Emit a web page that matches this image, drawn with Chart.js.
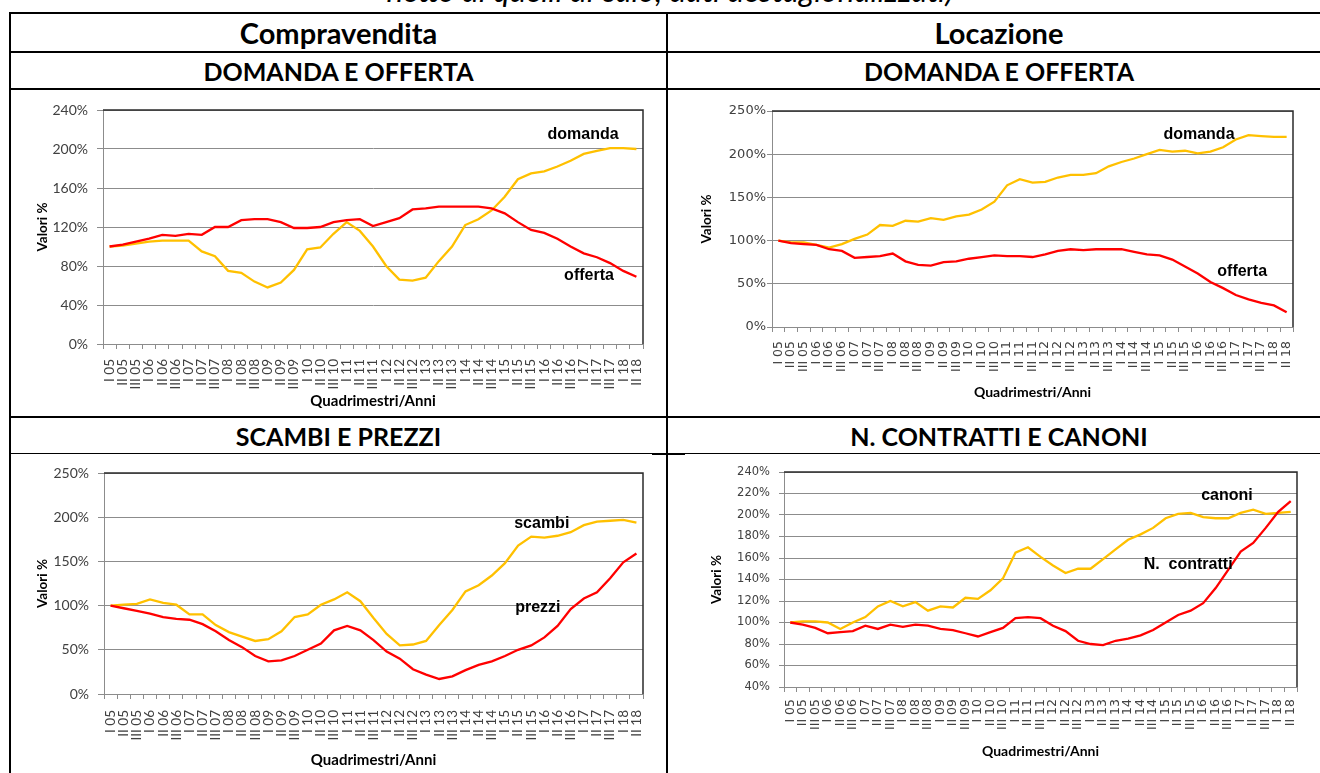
<!DOCTYPE html>
<html lang="it">
<head>
<meta charset="UTF-8">
<title>Compravendita e Locazione</title>
<script src="https://cdn.jsdelivr.net/npm/chart.js@4.4.1/dist/chart.umd.min.js"></script>
<style>
  body { margin: 0; background: #fff; }
  #pagina { position: relative; width: 1320px; height: 773px; overflow: hidden; font-family: Lato, "Open Sans", sans-serif; }
  .riga { position: absolute; background: #000; }
  .cella { position: absolute; display: flex; align-items: center; justify-content: center; font-weight: bold; font-size: 25px; color: #000; }
  .grande { font-size: 29px; }
  canvas { position: absolute; }
  #nota { position: absolute; left: 0; width: 1340px; top: -25px; line-height: 31px; text-align: center; font-style: italic; font-size: 31.5px; }
</style>
</head>
<body>
<div id="pagina">
  <div id="nota">netto di quelli di calo, dati destagionalizzati)</div>

  <div class="cella grande" style="left:11px; top:14px; width:655px; height:37px;">Compravendita</div>
  <div class="cella grande" style="left:668px; top:14px; width:662px; height:37px;">Locazione</div>
  <div class="cella" style="left:11px; top:53px; width:655px; height:35px;">DOMANDA E OFFERTA</div>
  <div class="cella" style="left:668px; top:53px; width:662px; height:35px;">DOMANDA E OFFERTA</div>
  <div class="cella" style="left:11px; top:418px; width:655px; height:35px;">SCAMBI E PREZZI</div>
  <div class="cella" style="left:668px; top:418px; width:662px; height:35px;">N. CONTRATTI E CANONI</div>

  <canvas id="cv-domanda" width="655" height="326" style="left:11px; top:90px;"></canvas>
  <canvas id="loc-domanda" width="652" height="326" style="left:668px; top:90px;"></canvas>
  <canvas id="cv-scambi" width="655" height="318" style="left:11px; top:455px;"></canvas>
  <canvas id="loc-contratti" width="652" height="318" style="left:668px; top:455px;"></canvas>

  <!-- bordi della tabella -->
  <div class="riga" style="left:9px; top:12px; width:1320px; height:2px;"></div>
  <div class="riga" style="left:9px; top:51px; width:1320px; height:2px;"></div>
  <div class="riga" style="left:9px; top:88px; width:1320px; height:2px;"></div>
  <div class="riga" style="left:9px; top:416px; width:1320px; height:2px;"></div>
  <div class="riga" style="left:9px; top:453px; width:1320px; height:1px;"></div>
  <div class="riga" style="left:652px; top:453px; width:33px; height:2px;"></div>
  <div class="riga" style="left:9px; top:12px; width:2px; height:780px;"></div>
  <div class="riga" style="left:666px; top:12px; width:2px; height:780px;"></div>
</div>

<script>
  // quadrimestri, da I 05 a II 18
  const quadrimestri = [
    "I 05", "II 05", "III 05", "I 06", "II 06", "III 06", "I 07", "II 07", "III 07",
    "I 08", "II 08", "III 08", "I 09", "II 09", "III 09", "I 10", "II 10", "III 10",
    "I 11", "II 11", "III 11", "I 12", "II 12", "III 12", "I 13", "II 13", "III 13",
    "I 14", "II 14", "III 14", "I 15", "II 15", "III 15", "I 16", "II 16", "III 16",
    "I 17", "II 17", "III 17", "I 18", "II 18"
  ];

  // compravendita: domanda e offerta
  const cvDomanda = [100, 101, 103, 105, 106, 106, 106, 95, 90, 75, 73, 64, 58, 63, 76, 97, 99, 113, 125, 116,
    100, 80, 66, 65, 68, 85, 100, 122, 128, 137, 151, 169, 175, 177, 182, 188, 195, 198, 201, 201, 200];
  const cvOfferta = [100, 102, 105, 108, 112, 111, 113, 112, 120, 120, 127, 128, 128, 125, 119, 119, 120, 125, 127, 128,
    121, 125, 129, 138, 139, 141, 141, 141, 141, 139, 134, 125, 117, 114, 108, 100, 93, 89, 83, 75, 69];

  // locazione: domanda e offerta
  const locDomanda = [100, 98, 98, 95, 92, 96, 102, 107, 118, 117, 123, 122, 126, 124, 128, 130, 136, 145, 164, 171,
    167, 168, 173, 176, 176, 178, 186, 191, 195, 200, 205, 203, 204, 201, 203, 208, 217, 222, 221, 220, 220];
  const locOfferta = [100, 97, 96, 95, 90, 88, 80, 81, 82, 85, 76, 72, 71, 75, 76, 79, 81, 83, 82, 82,
    81, 84, 88, 90, 89, 90, 90, 90, 87, 84, 83, 78, 70, 62, 52, 45, 37, 32, 28, 25, 17];

  // compravendita: scambi e prezzi
  const scambi = [100, 101, 102, 107, 103, 101, 90, 90, 78, 70, 65, 60, 62, 71, 87, 90, 101, 107, 115, 105,
    86, 68, 55, 56, 60, 78, 95, 116, 123, 134, 148, 168, 178, 177, 179, 183, 191, 195, 196, 197, 194];
  const prezzi = [100, 97, 94, 91, 87, 85, 84, 79, 71, 61, 53, 43, 37, 38, 43, 50, 57, 72, 77, 72,
    61, 48, 40, 28, 22, 17, 20, 27, 33, 37, 43, 50, 55, 64, 77, 96, 108, 115, 131, 149, 159];

  // locazione: n. contratti e canoni
  const canoni = [100, 101, 101, 100, 94, 100, 105, 115, 120, 115, 119, 111, 115, 114, 123, 122, 130, 141, 165, 170,
    161, 153, 146, 150, 150, 159, 168, 177, 182, 188, 197, 201, 202, 198, 197, 197, 202, 205, 201, 202, 203];
  const contratti = [100, 98, 95, 90, 91, 92, 97, 94, 98, 96, 98, 97, 94, 93, 90, 87, 91, 95, 104, 105,
    104, 97, 92, 83, 80, 79, 83, 85, 88, 93, 100, 107, 111, 118, 132, 149, 166, 174, 188, 203, 213];

  // tacche asse y
  const tickCvDomanda = [0, 40, 80, 120, 160, 200, 240];
  const tickLocDomanda = [0, 50, 100, 150, 200, 250];
  const tickScambi = [0, 50, 100, 150, 200, 250];
  const tickContratti = [40, 60, 80, 100, 120, 140, 160, 180, 200, 220, 240];

  const ROSSO = "#FF0000";
  const GIALLO = "#FFC000";
  const GRIGIO = "#8C8C8C";

  Chart.defaults.font.family = "Lato";

  // bordo scuro sopra e a destra + etichette delle serie
  function cornice(note) {
    return {
      id: "cornice",
      beforeDatasetsDraw(chart) {
        const { ctx, chartArea: a } = chart;
        ctx.save();
        ctx.strokeStyle = "#2b2b2b";
        ctx.lineWidth = 1.5;
        ctx.beginPath();
        ctx.moveTo(a.left, a.top);
        ctx.lineTo(a.right, a.top);
        ctx.lineTo(a.right, a.bottom);
        ctx.stroke();
        ctx.restore();
      },
      afterDatasetsDraw(chart) {
        const { ctx, scales } = chart;
        ctx.save();
        ctx.font = 'bold 16px "Liberation Sans", Arial, sans-serif';
        ctx.fillStyle = "#000";
        ctx.textAlign = "center";
        ctx.textBaseline = "middle";
        note.forEach(n => {
          ctx.fillText(n.testo, scales.x.getPixelForValue(n.i), scales.y.getPixelForValue(n.v));
        });
        ctx.restore();
      }
    };
  }

  function grafico(id, g) {
    return new Chart(document.getElementById(id), {
      type: "line",
      data: {
        labels: quadrimestri,
        datasets: g.serie.map(s => ({
          data: s.dati,
          borderColor: s.colore,
          borderWidth: 2.3,
          pointRadius: 0,
          tension: 0,
          fill: false
        }))
      },
      options: {
        responsive: false,
        animation: false,
        layout: { padding: g.padding },
        plugins: { legend: { display: false }, tooltip: { enabled: false } },
        scales: {
          x: {
            offset: true,
            grid: { display: true, drawOnChartArea: false, offset: true, tickLength: 5, color: GRIGIO },
            border: { color: GRIGIO, width: 1 },
            ticks: {
              autoSkip: false, minRotation: 90, maxRotation: 90,
              padding: g.xPad, color: "#404040", font: g.xFont
            },
            title: {
              display: true, text: "Quadrimestri/Anni", color: "#000",
              font: g.titoloFont, padding: { top: 0, bottom: g.xTitoloPad }
            },
            afterFit: s => { s.height = g.xH; }
          },
          y: {
            min: g.tacche[0],
            max: g.tacche[g.tacche.length - 1],
            afterBuildTicks: s => { s.ticks = g.tacche.map(v => ({ value: v })); },
            grid: { color: GRIGIO, tickLength: g.yTick, lineWidth: 1 },
            border: { color: GRIGIO, width: 1 },
            ticks: { callback: v => v + "%", padding: g.yPad, color: "#404040", font: g.yFont },
            title: {
              display: true, text: "Valori %", color: "#000",
              font: { size: 13.5, weight: "bold" }, padding: { top: 0, bottom: 0 }
            },
            afterFit: s => { s.width = g.yW; }
          }
        }
      },
      plugins: [cornice(g.note)]
    });
  }

  grafico("cv-domanda", {
    serie: [{ dati: cvOfferta, colore: ROSSO }, { dati: cvDomanda, colore: GIALLO }],
    tacche: tickCvDomanda,
    padding: { left: 24, top: 20, right: 23, bottom: 0 },
    yW: 68, xH: 72, yTick: 6, yPad: 9, xPad: 10, xTitoloPad: 6,
    yFont: { size: 14 }, xFont: { size: 13.5 }, titoloFont: { size: 15, weight: "bold" },
    note: [{ testo: "domanda", i: 35.95, v: 215 }, { testo: "offerta", i: 36.4, v: 70 }]
  });

  grafico("loc-domanda", {
    serie: [{ dati: locOfferta, colore: ROSSO }, { dati: locDomanda, colore: GIALLO }],
    tacche: tickLocDomanda,
    padding: { left: 31, top: 21, right: 27, bottom: 0 },
    yW: 73, xH: 89, yTick: 5, yPad: 1, xPad: 9, xTitoloPad: 15.6,
    yFont: { size: 13, family: "DejaVu Sans" }, xFont: { size: 12.5, family: "DejaVu Sans" },
    titoloFont: { size: 14, weight: "bold" },
    note: [{ testo: "domanda", i: 33.1, v: 223 }, { testo: "offerta", i: 36.5, v: 64 }]
  });

  grafico("cv-scambi", {
    serie: [{ dati: prezzi, colore: ROSSO }, { dati: scambi, colore: GIALLO }],
    tacche: tickScambi,
    padding: { left: 24, top: 18, right: 23, bottom: 0 },
    yW: 69, xH: 79, yTick: 6, yPad: 9, xPad: 11, xTitoloPad: 4,
    yFont: { size: 14 }, xFont: { size: 13.5 }, titoloFont: { size: 15, weight: "bold" },
    note: [{ testo: "scambi", i: 32.8, v: 193 }, { testo: "prezzi", i: 32.5, v: 98 }]
  });

  grafico("loc-contratti", {
    serie: [{ dati: contratti, colore: ROSSO }, { dati: canoni, colore: GIALLO }],
    tacche: tickContratti,
    padding: { left: 41, top: 17, right: 23, bottom: 0 },
    yW: 75, xH: 86, yTick: 5, yPad: 9, xPad: 7, xTitoloPad: 13.6,
    yFont: { size: 11.5, family: "DejaVu Sans" }, xFont: { size: 12.5, family: "DejaVu Sans" },
    titoloFont: { size: 14, weight: "bold" },
    note: [{ testo: "canoni", i: 34.9, v: 218 }, { testo: "N.  contratti", i: 31.8, v: 154 }]
  });
</script>
</body>
</html>
